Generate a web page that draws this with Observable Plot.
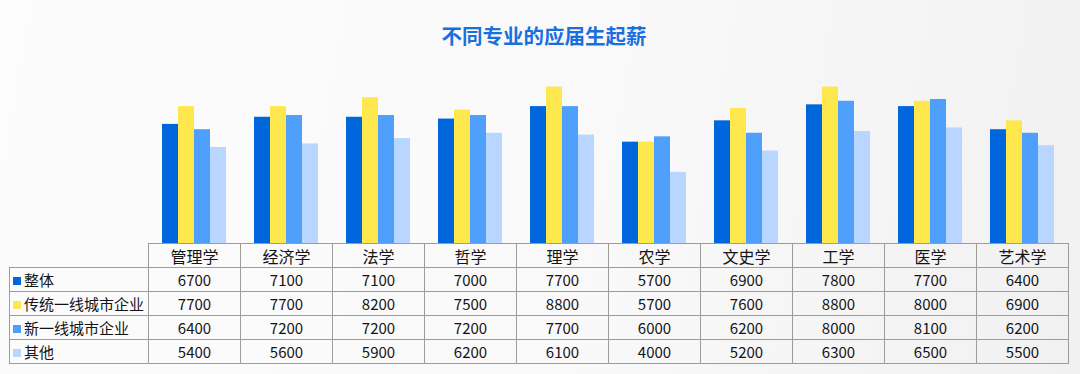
<!DOCTYPE html>
<html><head><meta charset="utf-8">
<script src="https://cdn.jsdelivr.net/npm/d3@7"></script>
<script src="https://cdn.jsdelivr.net/npm/@observablehq/plot@0.6"></script>
<style>
body{margin:0;width:1080px;height:374px;overflow:hidden;background:linear-gradient(100deg,#fcfcfc 0%,#f9f9f9 55%,#f1f1f1 100%);font-family:"Noto Sans CJK SC","Noto Sans",sans-serif;}
#wrap{position:relative;width:1080px;height:374px;}
#title{position:absolute;left:0;top:22px;width:1080px;text-align:center;font-size:20.5px;font-weight:bold;color:#1a6fdf;line-height:26px;padding-left:8px;box-sizing:border-box;}
#chart{position:absolute;left:0;top:70px;}
#tbl{position:absolute;left:9px;top:243px;border-collapse:collapse;table-layout:fixed;width:1060px;}
#tbl td{border:1px solid #9c9c9c;height:23px;padding:0;text-align:center;font-size:15px;color:#141414;line-height:22px;overflow:hidden;white-space:nowrap;}
#tbl td.hd{font-size:16px;}
#tbl td.lab{text-align:left;font-size:15px;padding-left:3px;}
#tbl td.blank{border-top:none;border-left:none;}
.sw{display:inline-block;width:8px;height:8px;margin-right:3px;vertical-align:1px;}
</style></head>
<body><div id="wrap"><div id="title"></div><div id="chart"></div><table id="tbl"></table></div>
<script>
const title = "不同专业的应届生起薪";
const categories = ["管理学","经济学","法学","哲学","理学","农学","文史学","工学","医学","艺术学"];
const series = ["整体","传统一线城市企业","新一线城市企业","其他"];
const overall  = [6700,7100,7100,7000,7700,5700,6900,7800,7700,6400];
const tier1    = [7700,7700,8200,7500,8800,5700,7600,8800,8000,6900];
const newTier1 = [6400,7200,7200,7200,7700,6000,6200,8000,8100,6200];
const other    = [5400,5600,5900,6200,6100,4000,5200,6300,6500,5500];
const colors = ["#0066dc","#ffe84e","#4f9ffd","#b8d6ff"];

const values = [overall, tier1, newTier1, other];
const data = [];
categories.forEach((c, i) => series.forEach((s, j) => data.push({cat: c, series: s, value: values[j][i]})));

document.getElementById("title").textContent = title;

const chart = Plot.plot({
  width: 1080, height: 174,
  marginTop: 13, marginBottom: 1, marginLeft: 148, marginRight: 12,
  style: {background: "transparent"},
  fx: {domain: categories, paddingInner: 0.27, paddingOuter: 0.135, axis: null},
  x: {domain: series, padding: 0, axis: null},
  y: {domain: [0, 9000], axis: null},
  color: {domain: series, range: colors},
  marks: [
    Plot.barY(data, {fx: "cat", x: "series", y: "value", fill: "series"})
  ]
});
document.getElementById("chart").appendChild(chart);

// data table
const tbl = document.getElementById("tbl");
const cg = document.createElement("colgroup");
[139, ...categories.map(() => 92)].forEach(w => { const col = document.createElement("col"); col.style.width = w + "px"; cg.appendChild(col); });
tbl.appendChild(cg);
const hr = document.createElement("tr");
const blank = document.createElement("td"); blank.className = "blank"; hr.appendChild(blank);
categories.forEach(c => { const td = document.createElement("td"); td.className = "hd"; td.textContent = c; hr.appendChild(td); });
tbl.appendChild(hr);
series.forEach((s, j) => {
  const tr = document.createElement("tr");
  const lab = document.createElement("td"); lab.className = "lab";
  const sw = document.createElement("span"); sw.className = "sw"; sw.style.background = colors[j];
  lab.appendChild(sw); lab.appendChild(document.createTextNode(s));
  tr.appendChild(lab);
  values[j].forEach(v => { const td = document.createElement("td"); td.textContent = v; tr.appendChild(td); });
  tbl.appendChild(tr);
});
</script>
</body></html>
